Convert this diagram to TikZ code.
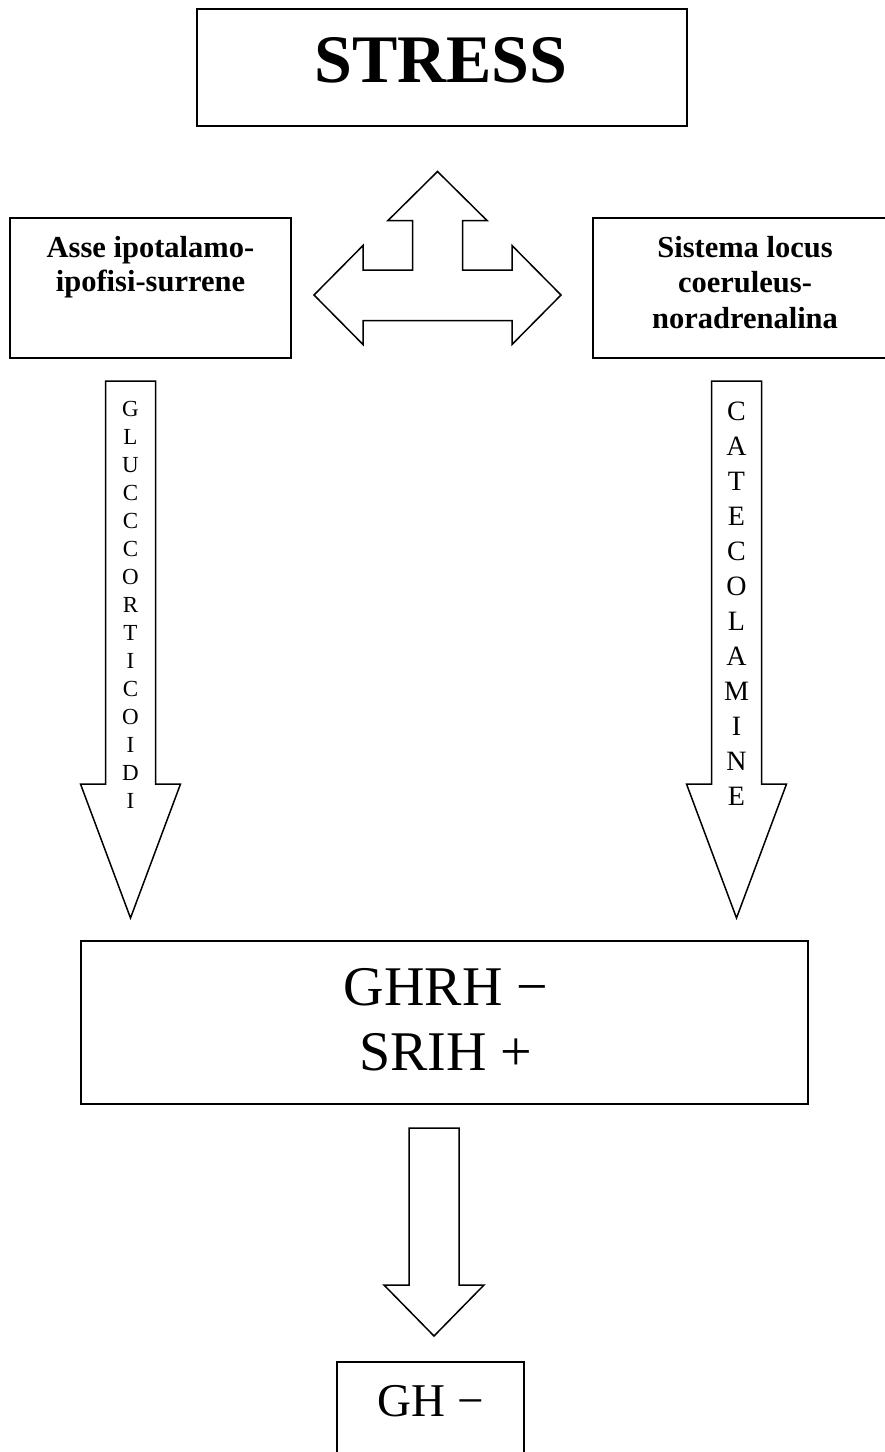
\documentclass[tikz,border=0pt]{standalone}
\usepackage{fontspec}
\setmainfont{Liberation Serif}
\begin{document}
\begin{tikzpicture}[x=1pt,y=-1pt,
  box/.style={draw=black, line width=2pt, fill=white, inner sep=0pt},
  txt/.style={anchor=base, inner sep=0pt},
  blockarrow/.style={draw=black, line width=1.5pt, line join=miter, fill=white},
  boldtxt/.style={txt, font=\fontsize{30.5}{35}\selectfont\bfseries},
  lettersL/.style={txt, font=\fontsize{23}{28}\selectfont},
  lettersR/.style={txt, font=\fontsize{28}{35}\selectfont}]
\useasboundingbox (0,0) rectangle (885,1452);
\clip (0,0) rectangle (885,1452);
\fill[white] (0,0) rectangle (885,1452);

% --- boxes ---
\node[box, minimum width=490pt, minimum height=117pt] (stress) at (442,67) {};
\node[box, minimum width=281pt, minimum height=140pt] (hpa) at (150.5,288) {};
\node[box, minimum width=304pt, minimum height=140pt] (lc) at (745,288) {};
\node[box, minimum width=727.5pt, minimum height=163pt] (ghrh) at (444.25,1022.5) {};
\node[box, minimum width=187pt, minimum height=118pt] (gh) at (430.8,1420.75) {};

% --- box texts ---
\node[txt, font=\fontsize{68}{80}\selectfont\bfseries] (stresstxt) at (441,82) {STRESS};
\node[boldtxt] (hpa1) at (150.5,257) {Asse ipotalamo-};
\node[boldtxt] (hpa2) at (150.5,291) {ipofisi-surrene};
\node[boldtxt] (lc1) at (745,257) {Sistema locus};
\node[boldtxt] (lc2) at (745,292.5) {coeruleus-};
\node[boldtxt] (lc3) at (745,328) {noradrenalina};
\node[txt, font=\fontsize{56}{65}\selectfont] (ghrh1) at (446,1005) {GHRH −};
\node[txt, font=\fontsize{56}{65}\selectfont] (ghrh2) at (446,1070) {SRIH +};
\node[txt, font=\fontsize{47}{55}\selectfont] (ghtxt) at (431,1416) {GH −};

% --- three-way block arrow between the two axes and STRESS ---
\draw[blockarrow]
  (437.5,171.5) -- (487,220.5) -- (462.5,220.5) -- (462.5,270)
  -- (512,270) -- (512,245.5) -- (561,295) -- (512,344.5) -- (512,320.5)
  -- (363,320.5) -- (363,344.5) -- (314,295) -- (363,245.5) -- (363,270)
  -- (412.5,270) -- (412.5,220.5) -- (388,220.5) -- cycle;

% --- downward block arrows ---
\draw[blockarrow]
  (105.5,381) -- (155.5,381) -- (155.5,784) -- (180.5,784) -- (130.5,918)
  -- (80.5,784) -- (105.5,784) -- cycle;
\draw[blockarrow]
  (711.5,381) -- (761.5,381) -- (761.5,784) -- (786.5,784) -- (736.5,918)
  -- (686.5,784) -- (711.5,784) -- cycle;
\draw[blockarrow]
  (409,1128) -- (459,1128) -- (459,1285) -- (484,1285) -- (434,1336)
  -- (384,1285) -- (409,1285) -- cycle;

% --- vertical lettering inside the arrows ---
\foreach \ch [count=\i from 0] in {G,L,U,C,C,C,O,R,T,I,C,O,I,D,I}
  \node[lettersL] (glu\i) at (130.5,{416+28*\i}) {\ch};
\foreach \ch [count=\i from 0] in {C,A,T,E,C,O,L,A,M,I,N,E}
  \node[lettersR] (cat\i) at (736.5,{420+35*\i}) {\ch};
\end{tikzpicture}
\end{document}
